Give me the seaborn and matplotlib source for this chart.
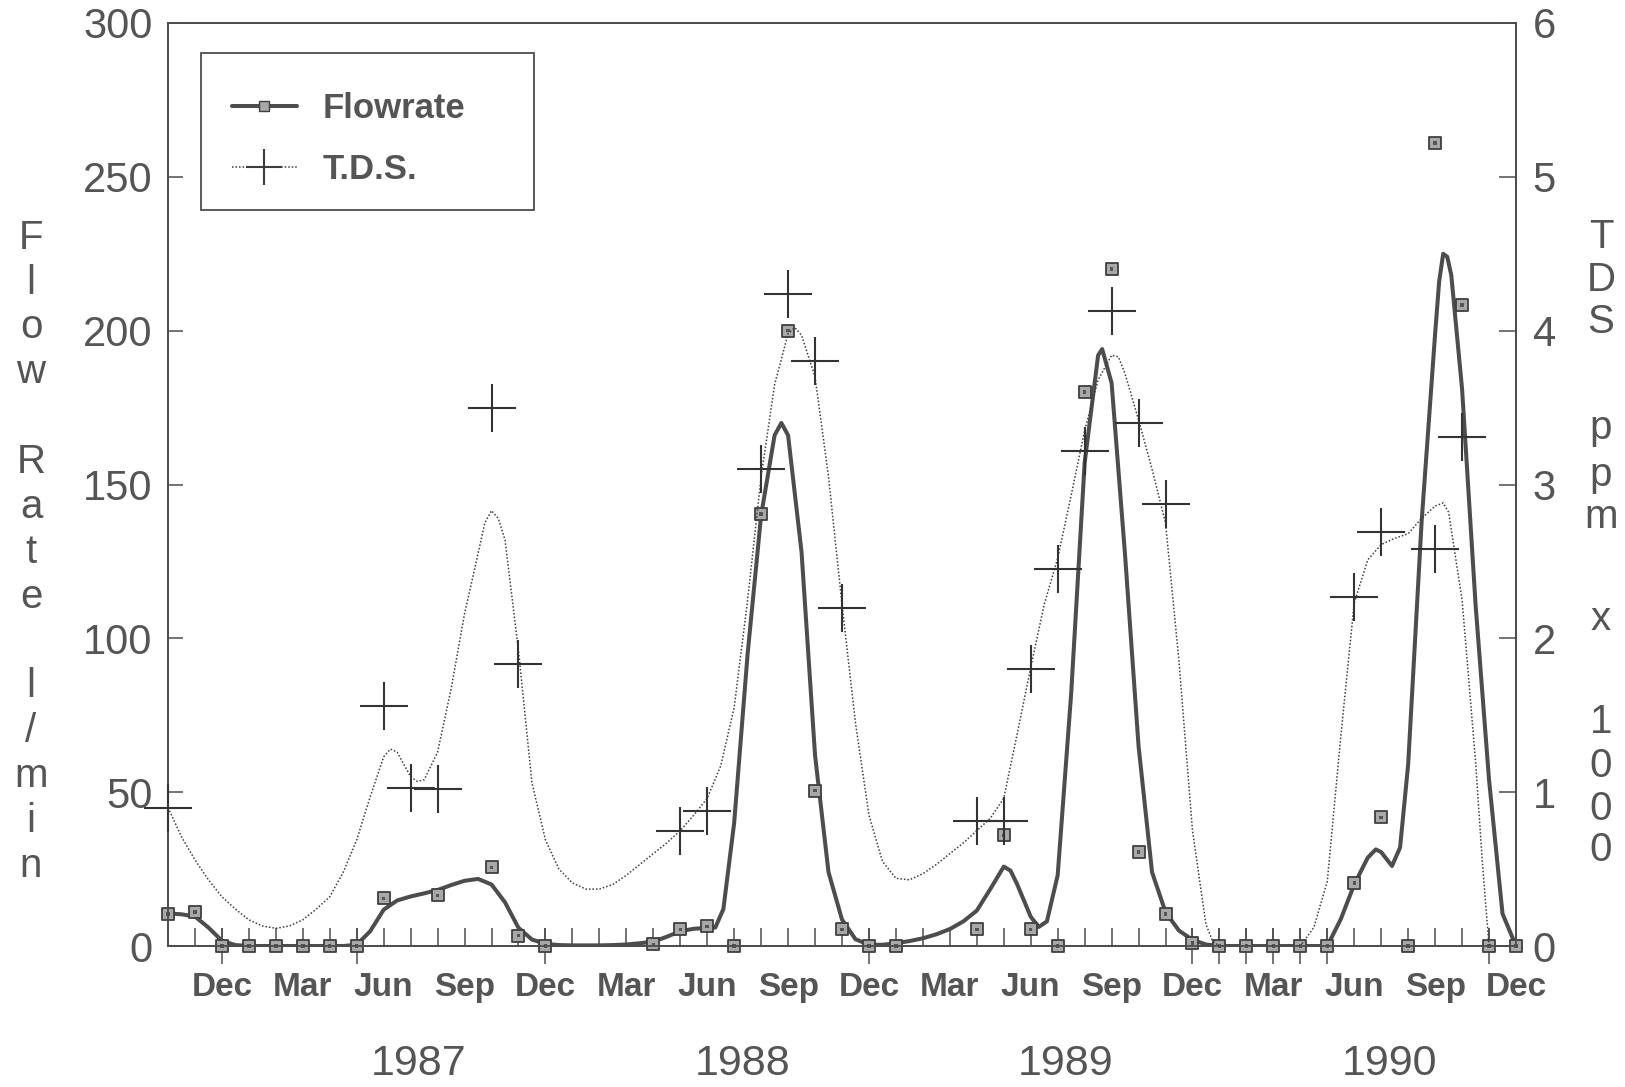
import numpy as np
import pandas as pd
import matplotlib
matplotlib.use("Agg")
import matplotlib.pyplot as plt
import seaborn as sns
from matplotlib.lines import Line2D
from matplotlib.patches import Rectangle

# ---------------- data (month index: 0 = Oct 1986 ... 50 = Dec 1990) ----------------
flow_month = [0, 1, 2, 3, 4, 5, 6, 7, 8, 10, 12, 13, 14, 18, 19, 20, 21, 22, 23, 24, 25, 26, 27,
              30, 31, 32, 33, 34, 35, 36, 37, 38, 39, 40, 41, 42, 43, 44, 45, 46, 47, 48, 49, 50]
flow_value = [10.4, 11, 0, 0, 0, 0, 0, 0, 15.5, 16.5, 25.6, 3.4, 0, 0.5, 5.4, 6.4, 0, 140.4, 200, 50.5, 5.4, 0, 0,
              5.4, 36, 5.4, 0, 180, 220, 30.6, 10.4, 1, 0, 0, 0, 0, 0, 20.5, 41.8, 0, 261, 208.4, 0, 0]

tds_month = [0, 8, 9, 10, 12, 13, 19, 20, 22, 23, 24, 25, 30, 31, 32, 33, 34, 35, 36, 37, 44, 45, 47, 48]
tds_value = [0.9, 1.56, 1.03, 1.02, 3.50, 1.83, 0.75, 0.875, 3.10, 4.24, 3.80, 2.20,
             0.81, 0.81, 1.80, 2.45, 3.22, 4.13, 3.40, 2.87, 2.27, 2.69, 2.58, 3.31]

# smoothed curves as drawn on the original chart
flow_curve_month = [0, 0.5, 1, 1.5, 2, 2.5, 3, 4, 5, 6, 6.5, 7, 7.5, 8, 8.5, 9, 9.5, 10, 10.5, 11, 11.5, 12,
                    12.5, 13, 13.5, 14, 14.5, 15, 16, 16.5, 17, 17.5, 18, 18.5, 19, 19.5, 20, 20.3, 20.6, 21,
                    21.5, 22, 22.5, 22.75, 23, 23.5, 24, 24.5, 25, 25.5, 26, 26.5, 27, 27.5, 28, 28.5, 29,
                    29.5, 30, 30.5, 31, 31.25, 31.5, 32, 32.3, 32.6, 33, 33.5, 34, 34.5, 34.65, 35, 35.5, 36,
                    36.5, 37, 37.5, 38, 38.5, 39, 40, 41, 42, 43, 43.5, 44, 44.5, 44.8, 45, 45.4, 45.7, 46,
                    46.5, 47, 47.15, 47.3, 47.45, 47.6, 48, 48.5, 49, 49.5, 50]
flow_curve_value = [10.6, 10.3, 9.6, 6.0, 1.7, 0.3, 0, 0, 0, 0, 0, 0.4, 4.8, 11.8, 14.8, 16.1, 17.1, 18.2,
                    19.8, 21.2, 21.8, 20.0, 14.2, 5.9, 2.1, 0.7, 0.3, 0.2, 0.2, 0.3, 0.5, 0.9, 1.4, 3.0, 4.8,
                    5.6, 5.9, 6.0, 12, 40, 95, 140, 166, 170, 166, 128, 62, 24, 8.6, 2.2, 0.4, 0.4, 0.9, 1.6,
                    2.5, 3.8, 5.5, 8.0, 11.5, 18.5, 25.8, 24.5, 20, 9.5, 6.2, 8, 23, 82, 157, 192, 194, 183,
                    127, 65, 24, 11, 5, 2, 0.5, 0, 0, 0, 0, 0, 8.7, 20, 28.7, 31.4, 30.5, 26, 32, 59, 138,
                    199, 216, 225, 224, 218, 181, 111, 54, 10.5, 0]

tds_curve_month = [0, 0.5, 1, 1.5, 2, 2.5, 3, 3.5, 4, 4.5, 5, 5.5, 6, 6.5, 7, 7.5, 8, 8.25, 8.5, 9, 9.25,
                   9.5, 10, 10.5, 11, 11.5, 11.75, 12, 12.25, 12.5, 13, 13.5, 14, 14.5, 15, 15.5, 16, 16.5,
                   17, 17.5, 18, 18.5, 19, 19.5, 20, 20.5, 21, 21.5, 22, 22.5, 23, 23.25, 23.5, 24, 24.5,
                   25, 25.5, 26, 26.5, 27, 27.5, 28, 28.5, 29, 29.5, 30, 30.5, 31, 31.5, 32, 32.5, 33, 33.5,
                   34, 34.5, 35, 35.25, 35.5, 36, 36.5, 37, 37.5, 38, 38.5, 38.75, 39, 40, 41, 42, 42.5, 43,
                   43.5, 44, 44.5, 45, 45.5, 46, 46.5, 47, 47.3, 47.5, 48, 48.5, 48.75, 49, 50]
tds_curve_value = [0.90, 0.71, 0.56, 0.43, 0.32, 0.24, 0.17, 0.13, 0.115, 0.13, 0.17, 0.24, 0.32, 0.48,
                   0.69, 0.97, 1.23, 1.28, 1.26, 1.10, 1.07, 1.08, 1.26, 1.67, 2.16, 2.55, 2.75, 2.83, 2.78,
                   2.64, 1.92, 1.06, 0.69, 0.50, 0.41, 0.37, 0.37, 0.40, 0.46, 0.53, 0.60, 0.67, 0.75, 0.85,
                   0.96, 1.17, 1.55, 2.25, 3.05, 3.65, 3.98, 4.02, 3.97, 3.70, 3.05, 2.22, 1.45, 0.85, 0.55,
                   0.44, 0.43, 0.47, 0.53, 0.60, 0.67, 0.75, 0.83, 0.96, 1.38, 1.81, 2.22, 2.52, 2.93, 3.35,
                   3.68, 3.84, 3.83, 3.72, 3.42, 3.10, 2.75, 1.85, 0.75, 0.14, 0.03, 0, 0, 0, 0, 0.12, 0.42,
                   1.36, 2.23, 2.51, 2.61, 2.65, 2.68, 2.78, 2.86, 2.88, 2.82, 2.25, 1.20, 0.55, 0, 0]

month_label_pos = [2, 5, 8, 11, 14, 17, 20, 23, 26, 29, 32, 35, 38, 41, 44, 47, 50]
month_label_txt = ["Dec", "Mar", "Jun", "Sep"] * 4 + ["Dec"]
long_tick_months = [2, 7, 14, 26, 38, 39, 40, 41, 42, 43, 49]
year_labels = ["1987", "1988", "1989", "1990"]
year_pos = [9.3, 21.3, 33.3, 45.3]
flow_ticks = [0, 50, 100, 150, 200, 250, 300]
tds_ticks = [0, 1, 2, 3, 4, 5, 6]
left_title = ["F", "l", "o", "w", "", "R", "a", "t", "e", "", "l", "/", "m", "i", "n"]
right_title = ["T", "D", "S", "p", "p", "m", "x", "1", "0", "0", "0"]
right_title_base = [239, 281, 321, 424, 469, 509, 608, 707, 750, 791, 831]  # baselines (reference px, shrunk view)

# ---------------- style ----------------
sns.set_style("ticks")
plt.rcParams["font.family"] = ["Liberation Sans", "DejaVu Sans"]
LINE = "#4d4d4d"
TXT = "#555555"
W, H = 1625, 1087
S = 1625 / 1568

fig = plt.figure(figsize=(W / 100, H / 100), dpi=100)
ax = fig.add_axes([168 / W, 141 / H, (1516 - 168) / W, (946 - 23) / H])
ax2 = ax.twinx()

flow_df = pd.DataFrame({"m": flow_month, "v": flow_value})
tds_df = pd.DataFrame({"m": tds_month, "v": tds_value})
fc_df = pd.DataFrame({"m": flow_curve_month, "v": flow_curve_value})
tc_df = pd.DataFrame({"m": tds_curve_month, "v": tds_curve_value})

sns.lineplot(data=tc_df, x="m", y="v", ax=ax2, color="#3c3c3c", lw=1.1, linestyle=(0, (1, 1.3)),
             estimator=None, sort=False, zorder=2)
sns.lineplot(data=fc_df, x="m", y="v", ax=ax, color=LINE, lw=2.9, estimator=None, sort=False,
             zorder=3, solid_capstyle="round", solid_joinstyle="round")
sns.scatterplot(data=flow_df, x="m", y="v", ax=ax, marker="s", s=70, color="#a8a8a8",
                edgecolor="#3f3f3f", linewidth=1.3, clip_on=False, zorder=6)
sns.scatterplot(data=flow_df, x="m", y="v", ax=ax, marker="s", s=6, color="#555555",
                edgecolor="none", linewidth=0, clip_on=False, zorder=7)
sns.scatterplot(data=tds_df, x="m", y="v", ax=ax2, marker="+", s=34.5 ** 2, color="#333333",
                linewidth=1.5, clip_on=False, zorder=6)

ax.set_xlim(0, 50)
ax.set_ylim(0, 300)
ax2.set_ylim(0, 6)
for a in (ax, ax2):
    a.set_xlabel("")
    a.set_ylabel("")
    for sp in a.spines.values():
        sp.set_visible(True)
        sp.set_color(LINE)
        sp.set_linewidth(1.3)

# x ticks: every month, labels at quarters
xt = list(range(0, 51))
xl = [""] * len(xt)
for p, t in zip(month_label_pos, month_label_txt):
    xl[p] = t
ax.set_xticks(xt)
ax.set_xticklabels(xl)
ax.tick_params(axis="x", direction="in", length=13, width=1.1, pad=19, labelsize=24,
               color=LINE, labelcolor=TXT)
for lab in ax.get_xticklabels():
    lab.set_fontweight("bold")

sec = ax.secondary_xaxis("bottom")
sec.set_xticks(long_tick_months)
sec.tick_params(axis="x", direction="inout", length=26, width=1.1, labelbottom=False, color=LINE)
sec.spines["bottom"].set_visible(False)

ax.set_yticks(flow_ticks)
ax.set_yticklabels([str(v) for v in flow_ticks])
ax.tick_params(axis="y", direction="in", length=11, width=1.1, pad=11, labelsize=30,
               color=LINE, labelcolor=TXT)
ax2.set_yticks(tds_ticks)
ax2.set_yticklabels([str(v) for v in tds_ticks])
ax2.tick_params(axis="y", direction="in", length=12, width=1.1, pad=12, labelsize=30,
                color=LINE, labelcolor=TXT)

# year labels
for yl, yp in zip(year_labels, year_pos):
    ax.text(yp, -0.128, yl, transform=ax.get_xaxis_transform(), ha="center", va="center",
            fontsize=31, color=TXT)

# vertical axis titles, one character per line
for i, ch in enumerate(left_title):
    if ch:
        yb = (240 + 43.3 * i) * S
        fig.text(31 / W, 1 - yb / H, ch, ha="center", va="baseline", fontsize=29, color=TXT)
for ch, yb in zip(right_title, right_title_base):
    fig.text(1601 / W, 1 - yb * S / H, ch, ha="center", va="baseline", fontsize=29, color=TXT)

# legend
handles = [
    Line2D([], [], color=LINE, lw=2.9, marker="s", markersize=7, markerfacecolor="#a8a8a8",
           markeredgecolor="#3f3f3f"),
    Line2D([], [], color="#3c3c3c", lw=1.1, linestyle=(0, (1, 1.3)), marker="+", markersize=26,
           markeredgewidth=1.5),
]
fig.legend(handles, ["Flowrate", "T.D.S."], loc="upper left", bbox_to_anchor=(215 / W, 1 - 75 / H),
           frameon=False, borderpad=0, handlelength=1.85, handletextpad=0.74, labelspacing=0.81,
           numpoints=1, prop={"size": 25, "weight": "bold"}, labelcolor=TXT)
fig.patches.append(Rectangle((201 / W, 1 - 210 / H), 333 / W, 157 / H, transform=fig.transFigure,
                             fill=False, edgecolor=LINE, lw=1.3))

fig.savefig("out.png", dpi=100, facecolor="white")
